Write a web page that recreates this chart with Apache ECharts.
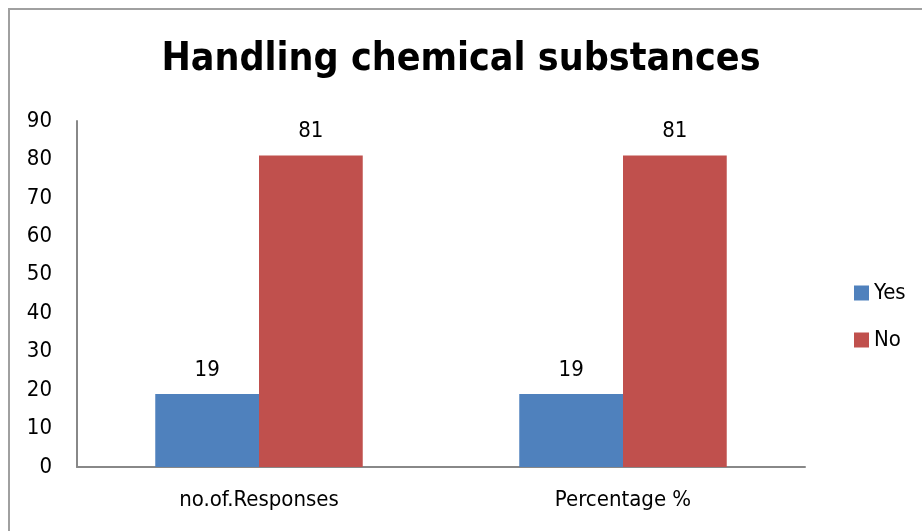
<!DOCTYPE html>
<html><head><meta charset="utf-8">
<script src="https://cdn.jsdelivr.net/npm/echarts@6/dist/echarts.min.js"></script>
<style>
html,body{margin:0;padding:0;background:#fff;overflow:hidden;}
#frame{position:absolute;left:8px;top:8px;width:1000px;height:600px;border-left:2px solid #a0a0a0;border-top:2px solid #a0a0a0;}
#c{position:absolute;left:0;top:0;width:922px;height:531px;}
</style></head>
<body>
<div id="frame"></div>
<div id="c"></div>
<script>
const categories = ['no.of.Responses', 'Percentage %'];
const yesValues = [19, 19];
const noValues = [81, 81];
const seriesNames = ['Yes', 'No'];
const F = "'DejaVu Sans Condensed','Liberation Sans Narrow','Arial Narrow',sans-serif";
const chart = echarts.init(document.getElementById('c'), null, {renderer:'canvas'});
const lbl = {show:true, position:'top', distance:13, color:'#000', fontFamily:F, fontSize:22};
chart.setOption({
  animation:false,
  backgroundColor:'transparent',
  title:{text:'Handling chemical substances', left:'center', top:35,
    textStyle:{fontFamily:F, fontWeight:'bold', fontSize:39, color:'#000'}},
  legend:{orient:'vertical', left:849, top:277, itemWidth:15, itemHeight:15, itemGap:25,
    icon:'rect', textStyle:{fontFamily:F, fontSize:22, color:'#000'}, data:seriesNames},
  grid:{left:77, top:121, width:728, height:346},
  xAxis:{type:'category', data:categories,
    axisLine:{lineStyle:{color:'#888', width:2}}, axisTick:{show:false},
    axisLabel:{fontFamily:F, fontSize:22, color:'#000', margin:22}},
  yAxis:{type:'value', min:0, max:90, interval:10,
    axisLine:{show:true, lineStyle:{color:'#888', width:2}}, axisTick:{show:false},
    splitLine:{show:false},
    axisLabel:{fontFamily:F, fontSize:22, color:'#000', margin:25}},
  series:[
    {name:seriesNames[0], type:'bar', data:yesValues, barGap:'0%', barCategoryGap:'43%',
      itemStyle:{color:'#4f81bd'}, label:lbl},
    {name:seriesNames[1], type:'bar', data:noValues, barGap:'0%', barCategoryGap:'43%',
      itemStyle:{color:'#c0504d'}, label:lbl}
  ]
});
</script>
</body></html>
